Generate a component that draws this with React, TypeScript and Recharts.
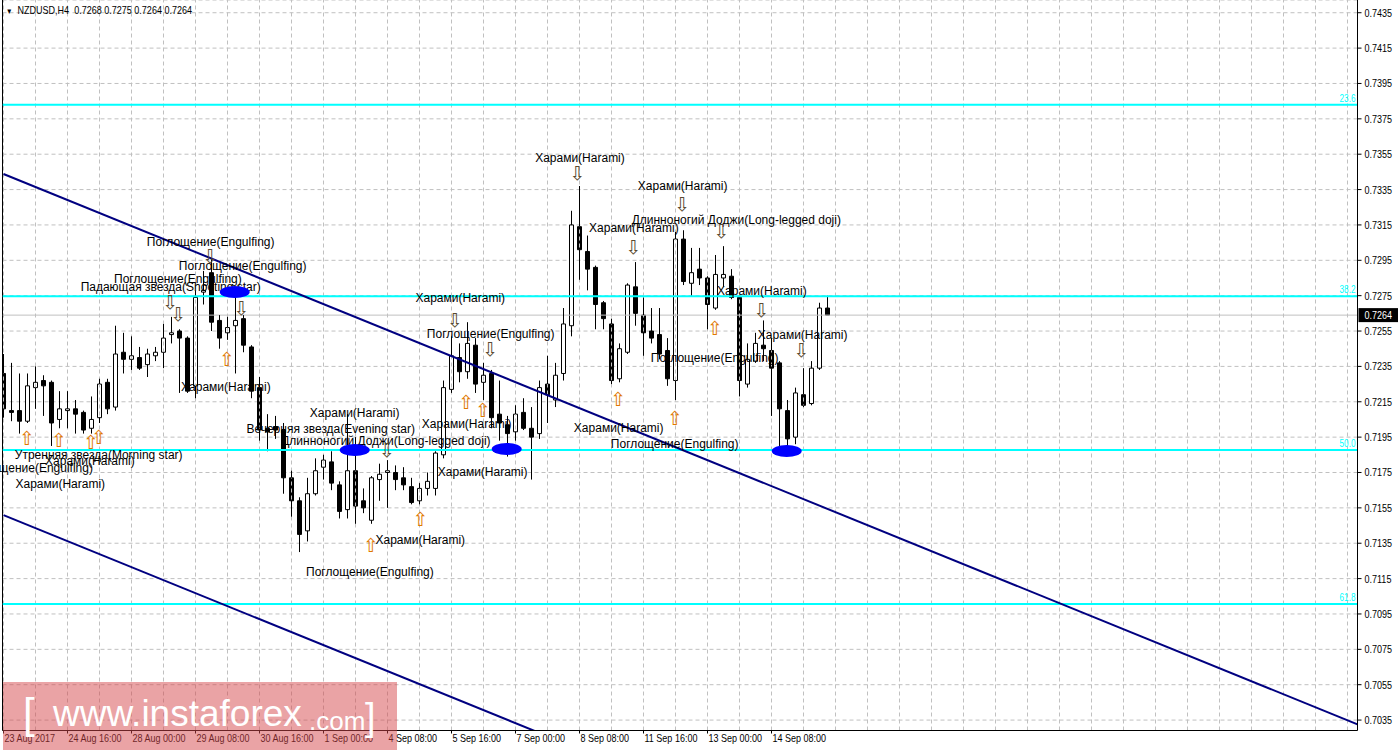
import React from 'react';
import {
  ComposedChart,
  Line,
  XAxis,
  YAxis,
  CartesianGrid,
  ReferenceLine,
  ReferenceArea,
  ReferenceDot,
} from 'recharts';

// NZDUSD H4 bars
const opens = [
  0.7231, 0.7210, 0.7210, 0.7204, 0.7223, 0.7227, 0.7226, 0.7205, 0.7210, 0.7211,
  0.7209, 0.7200, 0.7206, 0.7226, 0.7212, 0.7243, 0.7239, 0.7240, 0.7236, 0.7241,
  0.7243, 0.7253, 0.7255, 0.7251, 0.7224, 0.7277, 0.7288, 0.7261, 0.7254, 0.7258,
  0.7262, 0.7246, 0.7223, 0.7200, 0.7201, 0.7199, 0.7172, 0.7159, 0.7142, 0.7163,
  0.7178, 0.7181, 0.7168, 0.7154, 0.7176, 0.7159, 0.7148, 0.7171, 0.7175, 0.7175,
  0.7172, 0.7167, 0.7159, 0.7166, 0.7166, 0.7185, 0.7222, 0.7240, 0.7232, 0.7247,
  0.7226, 0.7231, 0.7208, 0.7202, 0.7198, 0.7209, 0.7200, 0.7197, 0.7225, 0.7216,
  0.7231, 0.7258, 0.7314, 0.7300, 0.7291, 0.7271, 0.7259, 0.7228, 0.7243, 0.7280,
  0.7264, 0.7255, 0.7253, 0.7244, 0.7227, 0.7307, 0.7282, 0.7290, 0.7285, 0.7268,
  0.7285, 0.7286, 0.7274, 0.7225, 0.7238, 0.7247, 0.7244, 0.7237, 0.7210, 0.7195,
  0.7219, 0.7214, 0.7234, 0.7268,
];
const highs = [
  0.7242, 0.7237, 0.7231, 0.7231, 0.7235, 0.7230, 0.7227, 0.7221, 0.7221, 0.7216,
  0.7210, 0.7218, 0.7228, 0.7228, 0.7258, 0.7254, 0.7252, 0.7246, 0.7245, 0.7246,
  0.7259, 0.7263, 0.7256, 0.7252, 0.7278, 0.7289, 0.7296, 0.7264, 0.7263, 0.7275,
  0.7264, 0.7247, 0.7229, 0.7208, 0.7207, 0.7203, 0.7176, 0.7161, 0.7172, 0.7183,
  0.7185, 0.7187, 0.7170, 0.7208, 0.7195, 0.7166, 0.7173, 0.7180, 0.7182, 0.7179,
  0.7178, 0.7172, 0.7169, 0.7175, 0.7187, 0.7227, 0.7252, 0.7248, 0.7260, 0.7251,
  0.7237, 0.7233, 0.7227, 0.7207, 0.7213, 0.7217, 0.7212, 0.7227, 0.7241, 0.7237,
  0.7268, 0.7323, 0.7337, 0.7309, 0.7292, 0.7272, 0.7262, 0.7248, 0.7282, 0.7294,
  0.7274, 0.7268, 0.7268, 0.7251, 0.7311, 0.7312, 0.7302, 0.7302, 0.7286, 0.7298,
  0.7303, 0.7290, 0.7275, 0.7248, 0.7254, 0.7261, 0.7251, 0.7238, 0.7216, 0.7223,
  0.7234, 0.7238, 0.7271, 0.7275,
];
const lows = [
  0.7206, 0.7204, 0.7197, 0.7203, 0.7211, 0.7207, 0.7190, 0.7200, 0.7200, 0.7197,
  0.7197, 0.7197, 0.7203, 0.7208, 0.7210, 0.7231, 0.7233, 0.7233, 0.7229, 0.7238,
  0.7234, 0.7248, 0.7220, 0.7220, 0.7217, 0.7270, 0.7255, 0.7245, 0.7250, 0.7231,
  0.7243, 0.7217, 0.7193, 0.7187, 0.7194, 0.7163, 0.7150, 0.7130, 0.7136, 0.7162,
  0.7171, 0.7165, 0.7149, 0.7149, 0.7146, 0.7152, 0.7146, 0.7159, 0.7155, 0.7165,
  0.7165, 0.7157, 0.7157, 0.7162, 0.7162, 0.7183, 0.7220, 0.7226, 0.7228, 0.7220,
  0.7216, 0.7200, 0.7193, 0.7184, 0.7193, 0.7199, 0.7171, 0.7194, 0.7203, 0.7212,
  0.7227, 0.7252, 0.7284, 0.7278, 0.7256, 0.7256, 0.7225, 0.7226, 0.7242, 0.7258,
  0.7241, 0.7248, 0.7239, 0.7224, 0.7216, 0.7281, 0.7275, 0.7281, 0.7256, 0.7267,
  0.7280, 0.7273, 0.7218, 0.7223, 0.7237, 0.7238, 0.7207, 0.7189, 0.7187, 0.7191,
  0.7212, 0.7213, 0.7233, 0.7264,
];
const closes = [
  0.7211, 0.7209, 0.7204, 0.7224, 0.7226, 0.7224, 0.7203, 0.7211, 0.7211, 0.7208,
  0.7199, 0.7205, 0.7225, 0.7211, 0.7242, 0.7239, 0.7241, 0.7234, 0.7242, 0.7243,
  0.7251, 0.7254, 0.7251, 0.7221, 0.7274, 0.7278, 0.7260, 0.7251, 0.7257, 0.7261,
  0.7247, 0.7221, 0.7199, 0.7198, 0.7199, 0.7172, 0.7159, 0.7140, 0.7163, 0.7176,
  0.7182, 0.7169, 0.7153, 0.7176, 0.7156, 0.7155, 0.7172, 0.7174, 0.7176, 0.7171,
  0.7168, 0.7158, 0.7166, 0.7170, 0.7186, 0.7223, 0.7241, 0.7232, 0.7248, 0.7225,
  0.7230, 0.7206, 0.7203, 0.7197, 0.7208, 0.7200, 0.7195, 0.7223, 0.7219, 0.7230,
  0.7259, 0.7315, 0.7301, 0.7290, 0.7270, 0.7262, 0.7227, 0.7245, 0.7281, 0.7265,
  0.7254, 0.7251, 0.7242, 0.7228, 0.7307, 0.7283, 0.7288, 0.7285, 0.7270, 0.7287,
  0.7287, 0.7274, 0.7227, 0.7239, 0.7248, 0.7245, 0.7234, 0.7211, 0.7194, 0.7220,
  0.7213, 0.7234, 0.7268, 0.7264,
];

const timeLabels = [
  '23 Aug 2017', '24 Aug 16:00', '28 Aug 00:00', '29 Aug 08:00', '30 Aug 16:00',
  '1 Sep 00:00', '4 Sep 08:00', '5 Sep 16:00', '7 Sep 00:00', '8 Sep 08:00',
  '11 Sep 16:00', '13 Sep 00:00', '14 Sep 08:00',
];
const timeLabelBars = [0, 8, 16, 24, 32, 40, 48, 56, 64, 72, 80, 88, 96];
const priceTicks = [
  0.7035, 0.7055, 0.7075, 0.7095, 0.7115, 0.7135, 0.7155, 0.7175, 0.7195, 0.7215,
  0.7235, 0.7255, 0.7275, 0.7295, 0.7315, 0.7335, 0.7355, 0.7375, 0.7395, 0.7415, 0.7435,
];

const fibNames = ['23.6', '38.2', '50.0', '61.8'];
const fibLevels = [0.7383, 0.72747, 0.71877, 0.71007];
const lastPrice = 0.7264;

// trend channel anchors (bar index, price)
const upperChannel = [{ x: 0, y: 0.73438 }, { x: 169.25, y: 0.70326 }];
const lowerChannel = [{ x: 0, y: 0.71509 }, { x: 169.25, y: 0.68398 }];

// blue marks
const markBars = [28.9, 43.9, 62.9, 97.9];
const markPrices = [0.72771, 0.71877, 0.71883, 0.71871];

// candlestick pattern captions
const patternNames = [
  'Харами(Harami)', 'Харами(Harami)', 'Длинноногий Доджи(Long-legged doji)', 'Харами(Harami)',
  'Поглощение(Engulfing)', 'Поглощение(Engulfing)', 'Поглощение(Engulfing)', 'Падающая звезда(Shooting star)',
  'Харами(Harami)', 'Харами(Harami)', 'Поглощение(Engulfing)', 'Харами(Harami)',
  'Поглощение(Engulfing)', 'Харами(Harami)', 'Харами(Harami)', 'Вечерняя звезда(Evening star)',
  'Длинноногий Доджи(Long-legged doji)', 'Харами(Harami)', 'Харами(Harami)', 'Поглощение(Engulfing)',
  'Харами(Harami)', 'Харами(Harami)', 'Поглощение(Engulfing)', 'Утренняя звезда(Morning star)',
  'Харами(Harami)', 'Поглощение(Engulfing)', 'Харами(Harami)',
];
const patternBars = [
  72.06, 84.9, 91.6, 78.8,
  25.9, 29.9, 21.8, 20.9,
  57.1, 94.8, 60.9, 99.9,
  88.9, 27.8, 43.9, 40.9,
  47.8, 57.9, 76.9, 83.9,
  59.9, 52.1, 45.8, 11.9,
  10.8, 3.2, 7.1,
];
const patternPrices = [
  0.73528, 0.73370, 0.73178, 0.73132,
  0.73053, 0.72918, 0.72844, 0.72799,
  0.72737, 0.72776, 0.72533, 0.72527,
  0.72397, 0.72233, 0.72086, 0.71996,
  0.71928, 0.72024, 0.72001, 0.71911,
  0.71753, 0.71368, 0.71187, 0.71849,
  0.71815, 0.71775, 0.71683,
];

const downArrowBars = [71.7, 84.8, 89.7, 78.7, 25.8, 20.8, 21.8, 29.7, 56.4, 94.7, 60.8, 99.7, 47.9];
const downArrowPrices = [
  0.73444, 0.73268, 0.73116, 0.73025, 0.72974, 0.72714, 0.72646, 0.72680,
  0.72612, 0.72669, 0.72448, 0.72443, 0.71877,
];
const upArrowBars = [2.9, 6.9, 10.9, 11.9, 27.9, 57.8, 59.9, 52.1, 45.9, 76.8, 83.9, 88.9];
const upArrowPrices = [
  0.71945, 0.71934, 0.71922, 0.71950, 0.72392, 0.72148, 0.72103, 0.71487,
  0.71340, 0.72165, 0.72058, 0.72567,
];

const candles = opens.map((o, i) => ({ k: i, o, h: highs[i], l: lows[i], c: closes[i] }));
const gridBars = Array.from({ length: 43 }, (_, i) => i * 4);

const X_DOMAIN: [number, number] = [-0.125, 169.25];
const Y_DOMAIN: [number, number] = [0.70291, 0.74422];
const AXIS_FONT = '"Liberation Sans", Arial, sans-serif';
const TEXT_FONT = '"Liberation Sans", Arial, sans-serif';
const NARROW = 0.82; // squeeze the axis font to the terminal's narrow look
const HALF = 0.25;

function TimeTick(props: any) {
  const { x, y, index } = props;
  return (
    <text
      transform={`translate(${x + 1},${y}) scale(${NARROW},1)`}
      dy="0.71em"
      textAnchor="start"
      fontFamily={AXIS_FONT}
      fontSize={11}
      fill="#000"
    >
      {timeLabels[index]}
    </text>
  );
}

function PriceTick(props: any) {
  const { x, y, payload } = props;
  return (
    <text
      transform={`translate(${x},${y}) scale(${NARROW},1)`}
      dy="0.36em"
      textAnchor="start"
      fontFamily={AXIS_FONT}
      fontSize={11}
      fill="#000"
    >
      {Number(payload.value).toFixed(4)}
    </text>
  );
}

const caption = (text: string) => (p: any) => (
  <text x={p.cx} y={p.cy} textAnchor="middle" dominantBaseline="central" fontFamily={TEXT_FONT} fontSize={12} fill="#000">
    {text}
  </text>
);

const arrow = (glyph: string, color: string) => (p: any) => (
  <text x={p.cx} y={p.cy} textAnchor="middle" dominantBaseline="central" fontFamily="DejaVu Sans" fontSize={19} fill={color}>
    {glyph}
  </text>
);

const ellipse = (p: any) => <ellipse cx={p.cx} cy={p.cy} rx={15} ry={6} fill="#0000ff" />;

const fibTag = (text: string) => (p: any) => (
  <text
    transform={`translate(${p.cx - 2},${p.cy - 3}) scale(${NARROW},1)`}
    textAnchor="end"
    fontFamily={AXIS_FONT}
    fontSize={10}
    fill="#00ffff"
  >
    {text}
  </text>
);

const priceTag = (p: any) => (
  <g>
    <rect x={p.cx + 1} y={p.cy - 7} width={40} height={14} fill="#000" />
    <text
      transform={`translate(${p.cx + 7},${p.cy}) scale(${NARROW},1)`}
      dy="0.36em"
      fontFamily={AXIS_FONT}
      fontSize={11}
      fill="#fff"
    >
      {lastPrice.toFixed(4)}
    </text>
  </g>
);

export default function App() {
  return (
    <div style={{ position: 'absolute', left: 0, top: 0, width: 1398, height: 750, background: '#fff', overflow: 'hidden' }}>
      <ComposedChart
        width={1398}
        height={750}
        data={candles}
        margin={{ top: 0, right: 0, bottom: 0, left: 2.5 }}
      >
        <CartesianGrid vertical={false} stroke="#c0c0c0" strokeDasharray="4 3" />
        <XAxis
          dataKey="k"
          type="number"
          domain={X_DOMAIN}
          allowDataOverflow
          ticks={timeLabelBars}
          interval={0}
          height={19.5}
          tickSize={3}
          tickMargin={1}
          tick={<TimeTick />}
          axisLine={{ stroke: '#000' }}
          tickLine={{ stroke: '#000' }}
        />
        <YAxis
          orientation="right"
          type="number"
          domain={Y_DOMAIN}
          allowDataOverflow
          ticks={priceTicks}
          interval={0}
          width={40.5}
          tickSize={4}
          tickMargin={3}
          tick={<PriceTick />}
          axisLine={{ stroke: '#000' }}
          tickLine={{ stroke: '#000' }}
        />

        {gridBars.map((k) => (
          <ReferenceLine key={'g' + k} x={k} stroke="#c0c0c0" strokeDasharray="4 3" ifOverflow="hidden" />
        ))}
        <ReferenceLine x={X_DOMAIN[0]} stroke="#000" ifOverflow="visible" />
        <ReferenceLine y={lastPrice} stroke="#c0c0c0" ifOverflow="hidden" />

        {candles.map((d) => {
          const top = Math.max(d.o, d.c);
          const bot = Math.min(d.o, d.c);
          const up = d.c >= d.o;
          return [
            d.h > top ? (
              <ReferenceLine key={'wh' + d.k} segment={[{ x: d.k, y: top }, { x: d.k, y: d.h }]} stroke="#000" ifOverflow="hidden" />
            ) : null,
            d.l < bot ? (
              <ReferenceLine key={'wl' + d.k} segment={[{ x: d.k, y: d.l }, { x: d.k, y: bot }]} stroke="#000" ifOverflow="hidden" />
            ) : null,
            <ReferenceArea
              key={'b' + d.k}
              x1={d.k - HALF}
              x2={d.k + HALF}
              y1={bot}
              y2={top}
              fill={up ? '#fff' : '#000'}
              fillOpacity={1}
              stroke="#000"
              strokeWidth={1}
              ifOverflow="hidden"
            />,
          ];
        })}

        {fibLevels.map((v, i) => (
          <ReferenceLine key={'f' + i} y={v} stroke="#00ffff" strokeWidth={2} ifOverflow="hidden" />
        ))}
        <ReferenceLine segment={upperChannel} stroke="#000080" strokeWidth={2} ifOverflow="hidden" />
        <ReferenceLine segment={lowerChannel} stroke="#000080" strokeWidth={2} ifOverflow="hidden" />

        {fibLevels.map((v, i) => (
          <ReferenceDot key={'ft' + i} x={X_DOMAIN[1]} y={v} shape={fibTag(fibNames[i])} ifOverflow="visible" />
        ))}
        <ReferenceDot x={X_DOMAIN[1]} y={lastPrice} shape={priceTag} ifOverflow="visible" />

        {patternNames.map((t, i) => (
          <ReferenceDot key={'p' + i} x={patternBars[i]} y={patternPrices[i]} shape={caption(t)} ifOverflow="visible" />
        ))}
        {downArrowBars.map((k, i) => (
          <ReferenceDot key={'da' + i} x={k} y={downArrowPrices[i]} shape={arrow('⇩', '#5a4a30')} ifOverflow="visible" />
        ))}
        {upArrowBars.map((k, i) => (
          <ReferenceDot key={'ua' + i} x={k} y={upArrowPrices[i]} shape={arrow('⇧', '#e07800')} ifOverflow="visible" />
        ))}
        {markBars.map((k, i) => (
          <ReferenceDot key={'m' + i} x={k} y={markPrices[i]} shape={ellipse} ifOverflow="visible" />
        ))}

        <Line dataKey="c" stroke="none" dot={false} activeDot={false} isAnimationActive={false} />
      </ComposedChart>

      <div
        style={{
          position: 'absolute',
          left: 6,
          top: 3,
          fontFamily: AXIS_FONT,
          fontSize: 11,
          color: '#000',
          whiteSpace: 'pre',
          lineHeight: '14px',
          transform: `scaleX(${NARROW})`,
          transformOrigin: 'left top',
        }}
      >
        <span style={{ fontSize: 8 }}>▼</span>  NZDUSD,H4  0.7268 0.7275 0.7264 0.7264
      </div>

      <div
        style={{
          position: 'absolute',
          left: 3,
          top: 682,
          width: 394,
          height: 68,
          background: 'rgba(214, 72, 76, 0.5)',
          color: '#fff',
          fontFamily: TEXT_FONT,
          whiteSpace: 'pre',
        }}
      >
        <span style={{ position: 'absolute', left: 20, top: 8, fontSize: 42 }}>[</span>
        <span style={{ position: 'absolute', left: 50, top: 11, fontSize: 37 }}>www.instaforex</span>
        <span style={{ position: 'absolute', left: 306, top: 24, fontSize: 26 }}>.com</span>
        <span style={{ position: 'absolute', left: 362, top: 14, fontSize: 38 }}>]</span>
      </div>
    </div>
  );
}
